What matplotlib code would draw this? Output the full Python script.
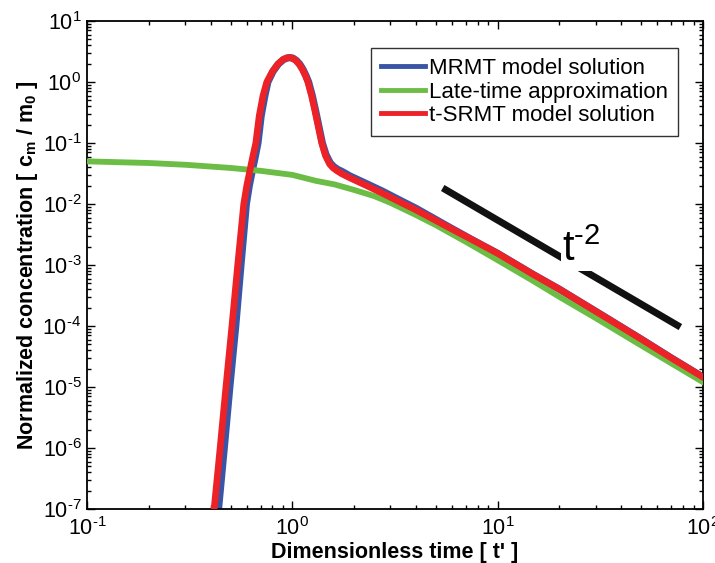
import numpy as np
import matplotlib
matplotlib.use('Agg')
import matplotlib.pyplot as plt
from matplotlib.ticker import FuncFormatter

# values (log-log axes)
# late-time approximation
t_late = [0.1, 0.2, 0.3, 0.5, 0.7, 1.0, 1.3, 1.6, 2.0, 2.5, 3.0, 4.0, 5.0, 7.0,
          10, 15, 20, 30, 50, 70, 100]
c_late = [0.050, 0.047, 0.044, 0.039, 0.035, 0.030, 0.024, 0.021, 0.017, 0.0135,
          0.0105, 0.0066, 0.0045, 0.0024, 1.2e-3, 5.4e-4, 3.0e-4, 1.35e-4,
          4.8e-5, 2.45e-5, 1.2e-5]

# MRMT model solution
t_mrmt = [0.437, 0.466, 0.496, 0.530, 0.562, 0.597, 0.617, 0.638, 0.660, 0.680,
          0.705, 0.735, 0.760, 0.805, 0.855, 0.905, 0.945, 0.975, 1.007, 1.047,
          1.088, 1.128, 1.168, 1.20, 1.25, 1.30, 1.35, 1.40, 1.46, 1.53, 1.59,
          1.66, 1.75, 1.9, 2.3, 2.75, 3.3, 4.0, 5.8, 7.5, 10, 15, 20, 34, 50, 70, 100]
c_mrmt = [1e-7, 1e-6, 1e-5, 1e-4, 1e-3, 1e-2, 0.02, 0.035, 0.06, 0.1,
          0.28, 0.6, 1.0, 1.49, 1.97, 2.33, 2.48, 2.51, 2.46, 2.25,
          1.95, 1.60, 1.25, 1.0, 0.6, 0.33, 0.18, 0.1, 0.064, 0.047, 0.041,
          0.037, 0.034, 0.029, 0.0215, 0.0162, 0.0118, 0.0085, 0.0042, 0.0026,
          1.55e-3, 6.9e-4, 4.0e-4, 1.35e-4, 6.1e-5, 3.0e-5, 1.45e-5]

# t-SRMT model solution
t_srmt = [0.416, 0.445, 0.475, 0.508, 0.542, 0.580, 0.600, 0.621, 0.642, 0.664,
          0.690, 0.720, 0.751, 0.80, 0.85, 0.90, 0.94, 0.968, 1.00, 1.04,
          1.08, 1.12, 1.16, 1.19, 1.24, 1.29, 1.34, 1.39, 1.45, 1.52, 1.58,
          1.65, 1.75, 1.9, 2.3, 2.75, 3.3, 4.0, 5.8, 7.5, 10, 15, 20, 34, 50, 70, 100]
c_srmt = [1e-7, 1e-6, 1e-5, 1e-4, 1e-3, 1e-2, 0.02, 0.035, 0.06, 0.1,
          0.28, 0.6, 1.0, 1.49, 1.97, 2.33, 2.48, 2.51, 2.46, 2.25,
          1.95, 1.60, 1.25, 1.0, 0.6, 0.33, 0.18, 0.1, 0.062, 0.045, 0.039,
          0.035, 0.031, 0.027, 0.020, 0.015, 0.011, 0.0080, 0.0041, 0.0026,
          1.55e-3, 6.9e-4, 4.0e-4, 1.35e-4, 6.1e-5, 3.0e-5, 1.45e-5]

# t^-2 guide line
t_slope = [5.4, 77.6]
c_slope = [0.0183, 9.6e-5]

labels = ['MRMT model solution', 'Late-time approximation', 't-SRMT model solution']

plt.rcParams['font.family'] = ['Liberation Sans', 'DejaVu Sans']
plt.rcParams['mathtext.fontset'] = 'custom'
plt.rcParams['mathtext.rm'] = 'Liberation Sans'
plt.rcParams['mathtext.it'] = 'Liberation Sans'
plt.rcParams['mathtext.bf'] = 'Liberation Sans:bold'

HY = '\u2010'  # short hyphen, like the original tick labels

def pow10(v, pos):
    k = int(round(np.log10(v)))
    s = str(k).replace('-', HY)
    return r'$\mathregular{10^{%s}}$' % s

fig = plt.figure(figsize=(7.15, 5.63), dpi=100)
ax = fig.add_axes([87/715, 1 - 509/563, 616/715, 488/563])

ax.plot(t_mrmt, c_mrmt, color='#3a55a5', lw=5.2, label=labels[0], zorder=2)
ax.plot(t_late, c_late, color='#6bbd45', lw=4.2, label=labels[1], zorder=3)
ax.plot(t_srmt, c_srmt, color='#ec2227', lw=4.8, label=labels[2], zorder=4)

ax.plot(t_slope, c_slope, color='#111111', lw=5, solid_capstyle='butt', zorder=5)
ax.text(25.6, 1.8e-3, r'$\mathregular{t^{%s2}}$' % HY, fontsize=30, ha='center', va='center',
        bbox=dict(facecolor='white', edgecolor='none', pad=1), zorder=6)

ax.set_xscale('log')
ax.set_yscale('log')
ax.set_xlim(0.1, 100)
ax.set_ylim(1e-7, 10)
ax.set_yticks([10.0**k for k in range(-7, 2)])
ax.set_xticks([0.1, 1, 10, 100])
ax.xaxis.set_major_formatter(FuncFormatter(pow10))
ax.yaxis.set_major_formatter(FuncFormatter(pow10))

ax.tick_params(which='both', direction='in', top=True, right=True, labelsize=15.5, width=1)
ax.tick_params(which='major', length=6)
ax.tick_params(which='minor', length=3)
ax.tick_params(axis='x', pad=6)
ax.tick_params(axis='y', pad=4)
for s in ax.spines.values():
    s.set_linewidth(1.3)

ax.set_xlabel("Dimensionless time [ t' ]", fontsize=15.5, fontweight='bold', labelpad=1)
ax.set_ylabel(r'Normalized concentration [ c$_\mathbf{m}$ / m$_\mathbf{0}$ ]',
              fontsize=15.5, fontweight='bold', labelpad=2)

leg = ax.legend(loc='upper right', bbox_to_anchor=(0.959, 0.945), borderaxespad=0,
                fontsize=16, frameon=True, fancybox=False, handlelength=1.95,
                handletextpad=0.18, labelspacing=0.12, borderpad=0.45)
leg.get_frame().set_edgecolor('black')
leg.get_frame().set_linewidth(1)
for ln in leg.get_lines():
    ln.set_linewidth(3.5)

fig.savefig('out.png', dpi=100)
